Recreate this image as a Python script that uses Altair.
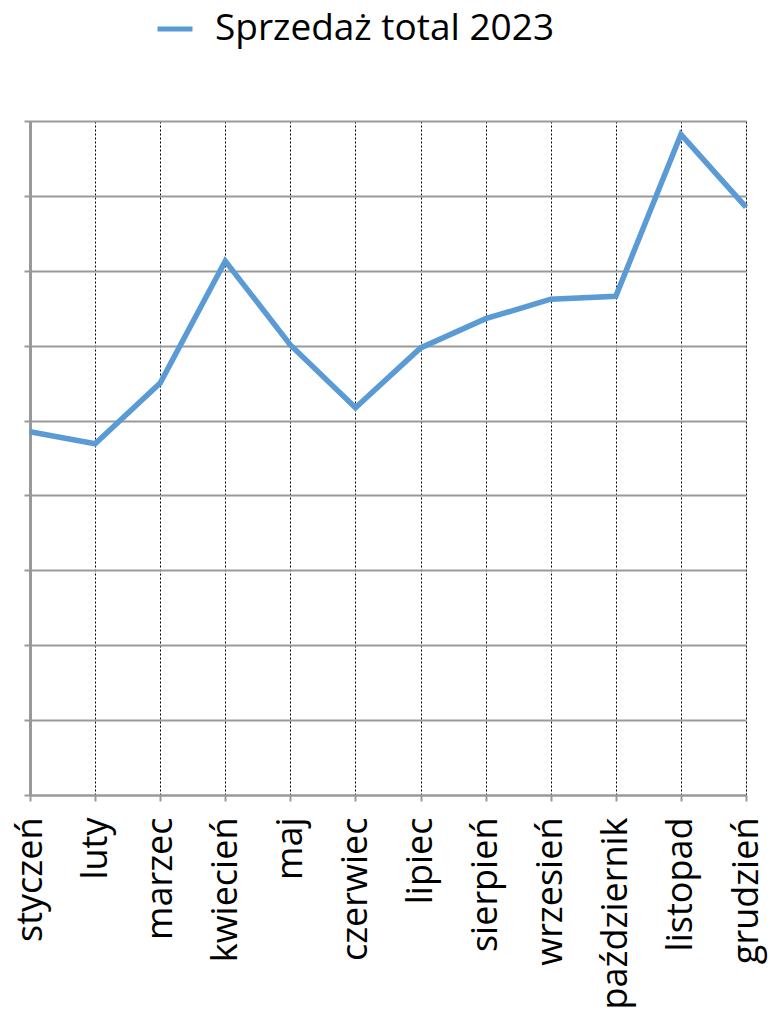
import altair as alt
import pandas as pd

months = ["styczeń", "luty", "marzec", "kwiecień", "maj", "czerwiec",
          "lipiec", "sierpień", "wrzesień", "październik", "listopad", "grudzień"]
sales = [4.85, 4.69, 5.50, 7.13, 6.01, 5.17, 5.97, 6.36, 6.62, 6.66, 8.82, 7.85]
series = ["Sprzedaż total 2023"] * len(months)

df = pd.DataFrame({"miesiac": months, "sprzedaz": sales, "seria": series})

FONT = "Open Sans"

chart = alt.Chart(df).mark_line(strokeWidth=5.5, color="#5B9BD5").encode(
    x=alt.X("miesiac:N", sort=months, scale=alt.Scale(paddingOuter=0, paddingInner=0, padding=0),
            axis=alt.Axis(title=None, labelAngle=270, labelAlign="right", labelBaseline="middle",
                          labelFontSize=36, labelFont=FONT, labelColor="black", labelPadding=16,
                          labelLimit=400, labelOverlap=False,
                          tickColor="#999999", tickWidth=2, tickSize=6, domainColor="#999999",
                          domainWidth=2, grid=True, gridColor="black", gridDash=[2, 2], gridWidth=1,
                          bandPosition=0.5)),
    y=alt.Y("sprzedaz:Q", scale=alt.Scale(domain=[0, 9], nice=False),
            axis=alt.Axis(title=None, labels=False, values=list(range(0, 10)), tickColor="#999999",
                          tickWidth=2, tickSize=6, domainColor="#999999", domainWidth=3,
                          grid=True, gridColor="#999999", gridWidth=2)),
    color=alt.Color("seria:N", scale=alt.Scale(range=["#5B9BD5"]),
                    legend=alt.Legend(title=None, orient="none", legendX=125, legendY=-112,
                                      symbolType="stroke", symbolStrokeWidth=5, symbolSize=1225,
                                      labelFontSize=37, labelFont=FONT, labelColor="black",
                                      labelOffset=20, labelLimit=700)),
).properties(
    width=716, height=674,
    autosize=alt.AutoSizeParams(type="none"),
    padding={"left": 22, "top": 113, "right": 30, "bottom": 220},
).configure_view(stroke=None).configure(background="white")

chart.save("out.html", embed_options={"renderer": "svg", "actions": False})
